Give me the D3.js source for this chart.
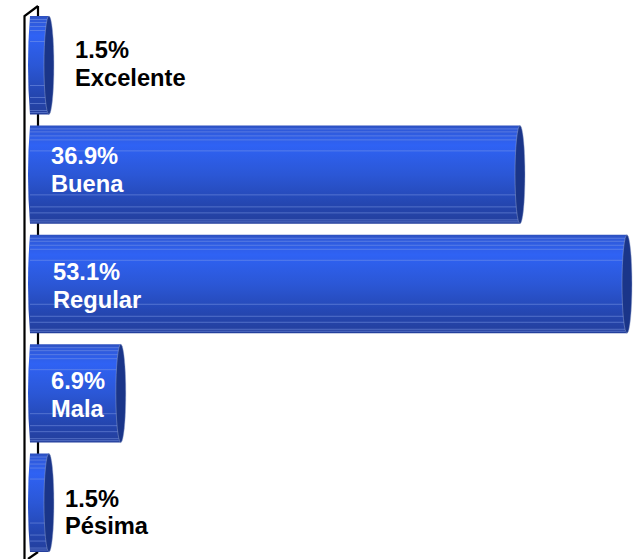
<!DOCTYPE html>
<html><head><meta charset="utf-8">
<script src="https://cdn.jsdelivr.net/npm/d3@7"></script>
<style>html,body{margin:0;background:#fff}svg{display:block}</style></head>
<body><svg id="c" width="637" height="559"></svg>
<script>
const categories = ["Excelente","Buena","Regular","Mala","Pésima"];
const values = [1.5,36.9,53.1,6.9,1.5];
const valueLabels = ["1.5%","36.9%","53.1%","6.9%","1.5%"];

// layout (kept apart from the data)
const labelLeft = [75,51,53,51,65];
const labelBase = [58,164,280,389,506.5];
const labelColor = ["#000","#fff","#fff","#fff","#000"];
const stripeFractions = [0.03,0.06,0.105,0.145,0.25,0.7,0.82,0.88,0.95,0.98];

const svg = d3.select("#c");
// The reference's axis is compressed toward its long bar, so the scale is piecewise.
const x = d3.scaleLinear().domain([0,36.9,53.1]).range([29,520,627]);
const y = d3.scaleBand().domain(categories).range([16,552]).paddingInner(0.1).paddingOuter(0);
const bw = y.bandwidth();

const defs = svg.append("defs");
const grad = defs.append("linearGradient").attr("id","body").attr("x1",0).attr("x2",0).attr("y1",0).attr("y2",1);
[[0,"#2d50bd"],[0.04,"#2f59d8"],[0.2,"#2f62f4"],[0.5,"#2b57d6"],[0.8,"#2446b0"],[1,"#243f9c"]]
  .forEach(s=>grad.append("stop").attr("offset",s[0]).attr("stop-color",s[1]));

const axis = svg.append("g").attr("fill","none").attr("stroke","#000").attr("stroke-width",2.2);
axis.append("path").attr("d",d3.line()([[38,6],[38,552]]));
axis.append("path").attr("d",d3.line()([[24.5,559],[24.5,16],[38,6]]));
axis.append("path").attr("d",d3.line()([[28,559],[38,552]]));

const bars = svg.selectAll("g.bar").data(categories).join("g").attr("class","bar")
  .attr("transform",c=>`translate(0,${y(c)})`);

bars.append("path").attr("fill","url(#body)")
  .attr("d",(c,i)=>{
    const xr=x(values[i]), x0=x(0)+1;
    return `M${x0},0 L${xr},0 L${xr},${bw} L${x0},${bw} Q${x0-4},${bw/2} ${x0},0 Z`;
  });
bars.each(function(c,i){
  d3.select(this).selectAll("line").data(stripeFractions).join("line")
    .attr("x1",x(0)+1).attr("x2",x(values[i])-2)
    .attr("y1",f=>Math.round(f*bw)+0.5).attr("y2",f=>Math.round(f*bw)+0.5)
    .attr("stroke","#7f9be8").attr("stroke-opacity",0.5).attr("stroke-width",1);
});
bars.append("ellipse")
  .attr("cx",(c,i)=>x(values[i])).attr("cy",bw/2)
  .attr("rx",5).attr("ry",bw/2)
  .attr("fill","#1a3589").attr("stroke","#9aa8d0").attr("stroke-opacity",0.45).attr("stroke-width",1);

const t = svg.selectAll("text.lab").data(categories).join("text").attr("class","lab")
  .attr("font-family","'Liberation Sans',Arial,sans-serif").attr("font-weight",700).attr("font-size",23.7)
  .attr("fill",(c,i)=>labelColor[i]);
t.append("tspan").attr("x",(c,i)=>labelLeft[i]).attr("y",(c,i)=>labelBase[i]).text((c,i)=>valueLabels[i]);
t.append("tspan").attr("x",(c,i)=>labelLeft[i]).attr("y",(c,i)=>labelBase[i]+27.6).text(c=>c);
</script></body></html>
